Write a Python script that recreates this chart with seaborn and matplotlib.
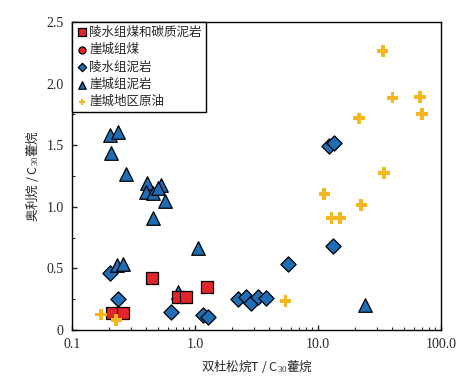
import matplotlib
matplotlib.use('Agg')

import numpy as np
import pandas as pd
import matplotlib.pyplot as plt
import seaborn as sns

sns.set_style("ticks")
plt.rcParams['font.family'] = ['Liberation Serif', 'Noto Sans CJK SC', 'DejaVu Sans']
plt.rcParams['mathtext.fontset'] = 'custom'
plt.rcParams['mathtext.rm'] = 'Liberation Serif'
plt.rcParams['mathtext.it'] = 'Liberation Serif:italic'

# 陵水组煤和碳质泥岩
ls_coal_x = [0.213, 0.261, 0.445, 0.731, 0.845, 1.245]
ls_coal_y = [0.135, 0.135, 0.42, 0.27, 0.27, 0.35]

# 崖城组煤 (no visible points)
yc_coal_x = []
yc_coal_y = []

# 陵水组泥岩
ls_mud_x = [0.204, 0.237, 0.645, 1.166, 1.28, 2.25, 2.60, 2.84, 3.27, 3.78, 5.74, 12.4, 13.5, 13.3]
ls_mud_y = [0.46, 0.255, 0.144, 0.122, 0.103, 0.25, 0.265, 0.216, 0.265, 0.257, 0.536, 1.496, 1.52, 0.684]

# 崖城组泥岩
yc_mud_x = [0.204, 0.238, 0.208, 0.273, 0.405, 0.526, 0.397, 0.453, 0.503, 0.570, 0.458,
            1.06, 0.233, 0.258, 0.73, 24.1]
yc_mud_y = [1.583, 1.61, 1.434, 1.266, 1.19, 1.177, 1.123, 1.11, 1.15, 1.05, 0.907,
            0.663, 0.527, 0.54, 0.31, 0.203]

# 崖城地区原油
oil_x = [33.6, 40.5, 67.5, 70.5, 21.5, 34.6, 11.3, 22.6, 12.9, 15.1, 5.46, 0.172, 0.23]
oil_y = [2.267, 1.886, 1.889, 1.753, 1.718, 1.277, 1.106, 1.017, 0.912, 0.912, 0.235, 0.127, 0.08]

blue = '#1f6db5'
red = '#e5232a'
orange = '#f6b61e'

fig = plt.figure(figsize=(4.73, 3.79), dpi=100)
ax = fig.add_axes([0.152, 0.129, 0.78, 0.813])

sns.scatterplot(x=ls_mud_x, y=ls_mud_y, ax=ax, marker='D', s=60, color=blue,
                edgecolor='black', linewidth=0.9, label='陵水组泥岩', zorder=3)
sns.scatterplot(x=yc_mud_x, y=yc_mud_y, ax=ax, marker='^', s=95, color=blue,
                edgecolor='black', linewidth=0.9, label='崖城组泥岩', zorder=3)
sns.scatterplot(x=ls_coal_x, y=ls_coal_y, ax=ax, marker='s', s=85, color=red,
                edgecolor='black', linewidth=0.9, label='陵水组煤和碳质泥岩', zorder=4)
ax.scatter(yc_coal_x, yc_coal_y, marker='o', s=85, color=red,
           edgecolor='black', linewidth=0.9, label='崖城组煤', zorder=4)
sns.scatterplot(x=oil_x, y=oil_y, ax=ax, marker='P', s=70, color=orange,
                edgecolor='none', linewidth=0, label='崖城地区原油', zorder=5)

ax.set_xscale('log')
ax.set_xlim(0.1, 100)
ax.set_ylim(0, 2.5)
ax.set_xticks([0.1, 1, 10, 100])
ax.set_xticklabels(['0.1', '1.0', '10.0', '100.0'])
ax.set_yticks([0, 0.5, 1.0, 1.5, 2.0, 2.5])
ax.set_yticklabels(['0', '0.5', '1.0', '1.5', '2.0', '2.5'])
ax.set_yticks(np.arange(0.25, 2.5, 0.5), minor=True)
ax.tick_params(which='both', direction='in', top=False, right=False, labelsize=10, pad=6)
ax.tick_params(which='major', length=3.5, width=1)
ax.tick_params(which='minor', length=2.5, width=0.8)
for sp in ax.spines.values():
    sp.set_linewidth(1.0)
    sp.set_color('black')

ax.set_xlabel('双杜松烷T / C$_{30}$藿烷', fontsize=9, family=['Noto Sans CJK SC', 'Liberation Serif'])
ax.set_ylabel('奥利烷 / C$_{30}$藿烷', fontsize=9, family=['Noto Sans CJK SC', 'Liberation Serif'])

# legend in the original order
handles, labels = ax.get_legend_handles_labels()
order = ['陵水组煤和碳质泥岩', '崖城组煤', '陵水组泥岩', '崖城组泥岩', '崖城地区原油']
hmap = dict(zip(labels, handles))
leg = ax.legend([hmap[k] for k in order], order, loc='upper left', borderaxespad=0,
                fancybox=False, edgecolor='black', framealpha=1, markerscale=0.55,
                handletextpad=0.1, handlelength=1.0, labelspacing=0.35, borderpad=0.3,
                prop={'family': ['Noto Sans CJK SC'], 'size': 9})
leg.get_frame().set_linewidth(1.0)

fig.savefig('out.png', dpi=100)
